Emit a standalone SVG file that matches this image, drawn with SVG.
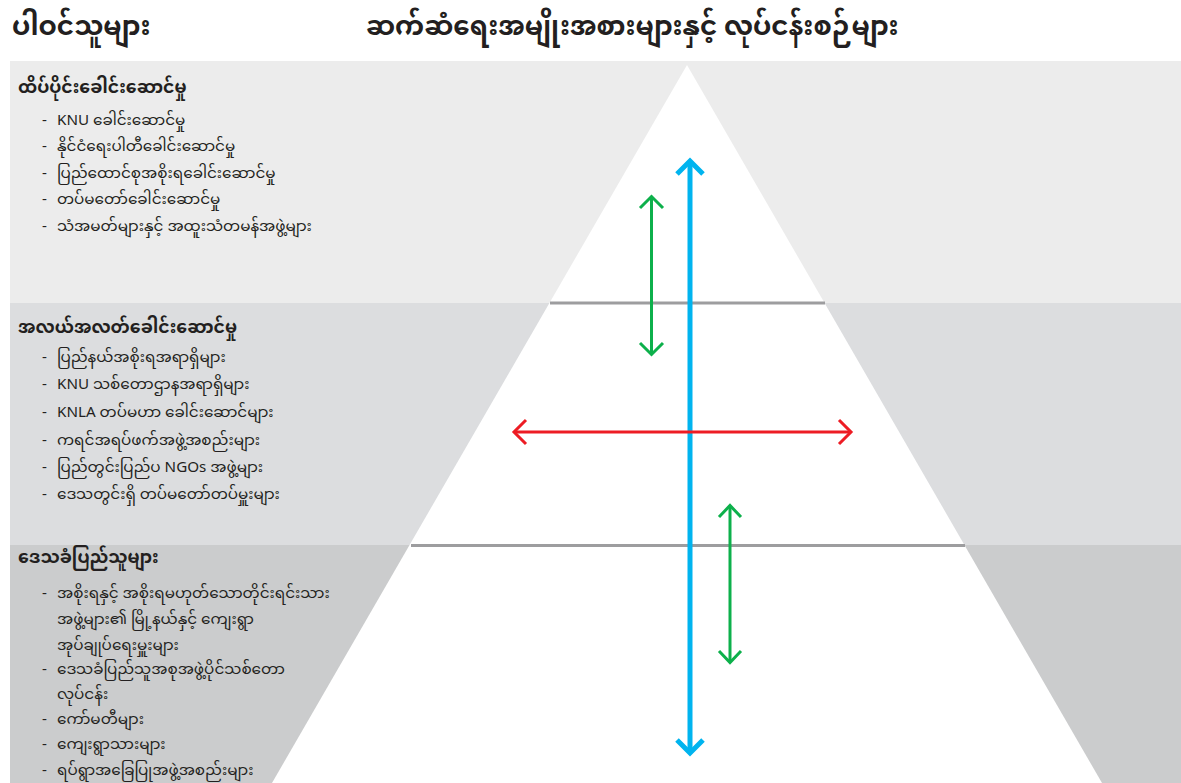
<svg xmlns="http://www.w3.org/2000/svg" width="1181" height="783" viewBox="0 0 1181 783">
<style>
text{font-family:"Noto Sans Myanmar","Padauk","Myanmar Text","Noto Sans",sans-serif;fill:#231f20}
.title{font-size:26.2px;font-weight:bold}
.hdr{font-size:17.3px;font-weight:bold}
.item{font-size:15.2px}
</style>
<rect width="1181" height="783" fill="#ffffff"/>
<g id="bands">
<rect x="10" y="61" width="1171" height="242" fill="#ececec"/>
<rect x="10" y="303" width="1171" height="242" fill="#dcdddf"/>
<rect x="10" y="545" width="1171" height="238" fill="#cbcccd"/>
</g>
<polygon id="pyramid" points="687,65 1102,783 272,783" fill="#ffffff"/>
<g id="dividers" stroke="#9d9d9f" stroke-width="3">
<line x1="550" y1="303" x2="825" y2="303"/>
<line x1="411" y1="545.5" x2="965" y2="545.5"/>
</g>
<g id="titles">
<text class="title" x="12" y="35">ပါဝင်သူများ</text>
<text class="title" x="366" y="35">ဆက်ဆံရေးအမျိုးအစားများနှင့် လုပ်ငန်းစဉ်များ</text>
</g>
<g id="top-level">
<text class="hdr" x="18" y="93">ထိပ်ပိုင်းခေါင်းဆောင်မှု</text>
<text class="item" x="42" y="125">-</text><text class="item" x="57" y="125">KNU ခေါင်းဆောင်မှု</text>
<text class="item" x="42" y="151">-</text><text class="item" x="57" y="151">နိုင်ငံရေးပါတီခေါင်းဆောင်မှု</text>
<text class="item" x="42" y="178">-</text><text class="item" x="57" y="178">ပြည်ထောင်စုအစိုးရခေါင်းဆောင်မှု</text>
<text class="item" x="42" y="204">-</text><text class="item" x="57" y="204">တပ်မတော်ခေါင်းဆောင်မှု</text>
<text class="item" x="42" y="231">-</text><text class="item" x="57" y="231">သံအမတ်များနှင့် အထူးသံတမန်အဖွဲ့များ</text>
</g>
<g id="middle-level">
<text class="hdr" x="18" y="333">အလယ်အလတ်ခေါင်းဆောင်မှု</text>
<text class="item" x="42" y="362">-</text><text class="item" x="57" y="362">ပြည်နယ်အစိုးရအရာရှိများ</text>
<text class="item" x="42" y="389">-</text><text class="item" x="57" y="389">KNU သစ်တောဌာနအရာရှိများ</text>
<text class="item" x="42" y="417">-</text><text class="item" x="57" y="417">KNLA တပ်မဟာ ခေါင်းဆောင်များ</text>
<text class="item" x="42" y="445">-</text><text class="item" x="57" y="445">ကရင်အရပ်ဖက်အဖွဲ့အစည်းများ</text>
<text class="item" x="42" y="472">-</text><text class="item" x="57" y="472">ပြည်တွင်းပြည်ပ NGOs အဖွဲ့များ</text>
<text class="item" x="42" y="499">-</text><text class="item" x="57" y="499">ဒေသတွင်းရှိ တပ်မတော်တပ်မှူးများ</text>
</g>
<g id="local-level">
<text class="hdr" x="18" y="563">ဒေသခံပြည်သူများ</text>
<text class="item" x="42" y="598">-</text><text class="item" x="57" y="598">အစိုးရနှင့် အစိုးရမဟုတ်သောတိုင်းရင်းသား</text>
<text class="item" x="57" y="624">အဖွဲ့များ၏  မြို့နယ်နှင့် ကျေးရွာ</text>
<text class="item" x="57" y="650">အုပ်ချုပ်ရေးမှူးများ</text>
<text class="item" x="42" y="674">-</text><text class="item" x="57" y="674">ဒေသခံပြည်သူအစုအဖွဲ့ပိုင်သစ်တော</text>
<text class="item" x="57" y="699">လုပ်ငန်း</text>
<text class="item" x="42" y="724">-</text><text class="item" x="57" y="724">ကော်မတီများ</text>
<text class="item" x="42" y="749">-</text><text class="item" x="57" y="749">ကျေးရွာသားများ</text>
<text class="item" x="42" y="775">-</text><text class="item" x="57" y="775">ရပ်ရွာအခြေပြုအဖွဲ့အစည်းများ</text>
</g>
<g id="connectors" fill="none">
<g id="vertical-blue" stroke="#00b4ef" stroke-width="5">
<line x1="690" y1="161" x2="690" y2="753"/>
<polyline points="677,174 690,161 703,174"/>
<polyline points="677,740 690,753 703,740"/>
</g>
<g id="vertical-green" stroke="#0db04b" stroke-width="3">
<line x1="651.5" y1="197" x2="651.5" y2="354"/>
<polyline points="640,208 651.5,196.5 663,208"/>
<polyline points="640,343 651.5,354.5 663,343"/>
<line x1="730" y1="506" x2="730" y2="662"/>
<polyline points="719,517 730,505.5 741,517"/>
<polyline points="719,651 730,662.5 741,651"/>
</g>
<g id="horizontal-red" stroke="#ed1c24" stroke-width="3">
<line x1="514" y1="432" x2="851" y2="432"/>
<polyline points="526,420 514,432 526,444"/>
<polyline points="839,420 851,432 839,444"/>
</g>
</g>
</svg>
